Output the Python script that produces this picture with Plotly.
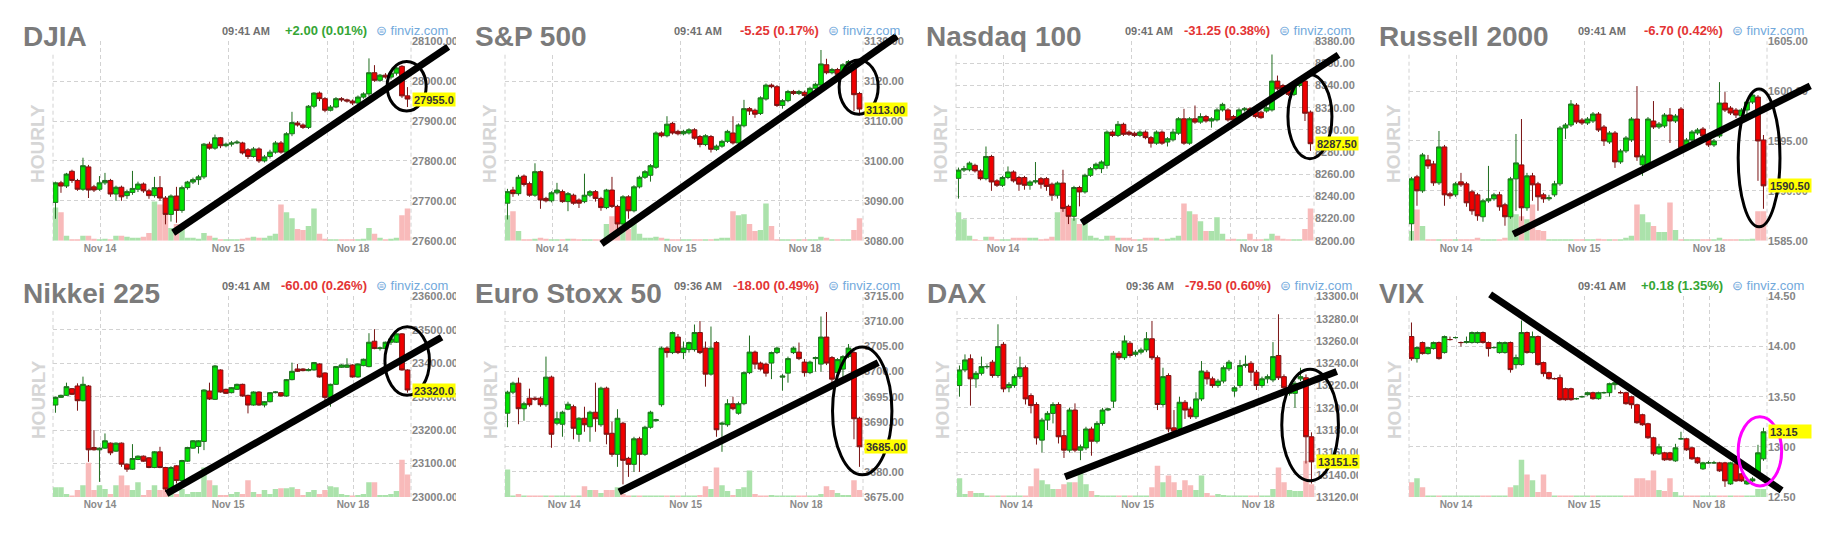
import plotly.graph_objects as go

W, H = 1843, 544
FONT = "Arial, 'Liberation Sans', sans-serif"

# hourly bars, Nov 13 evening through Nov 18 morning
bar_index = list(range(65))
x_range = (-0.45, 64.64)

# ---------------- DJIA ----------------
djia_open = [27696,27745,27737,27774,27751,27729,27785,27735,27729,27745,
             27751,27717,27734,27713,27721,27729,27742,27725,27713,27733,
             27707,27666,27712,27676,27733,27747,27753,27760,27842,27832,
             27858,27838,27842,27845,27845,27828,27811,27830,27800,27811,
             27822,27845,27822,27868,27895,27890,27884,27937,27970,27956,
             27927,27935,27956,27953,27950,27945,27960,27968,28021,28002,
             28015,28010,28020,28037,27963]
djia_high = [27748,27750,27770,27778,27755,27808,27790,27740,27762,27770,
             27755,27738,27738,27728,27775,27748,27746,27730,27760,27762,
             27712,27716,27735,27738,27750,27758,27765,27845,27848,27866,
             27860,27846,27850,27852,27848,27832,27835,27834,27815,27828,
             27850,27850,27872,27923,27900,27894,27940,27972,27974,27960,
             27940,27960,27960,27956,27954,27964,27972,28057,28040,28018,
             28020,28025,28036,28040,27985]
djia_low = [27655,27720,27732,27745,27725,27725,27707,27722,27725,27740,
            27710,27700,27700,27705,27715,27722,27720,27705,27708,27700,
            27641,27648,27645,27670,27728,27742,27740,27755,27828,27828,
            27832,27834,27836,27842,27816,27805,27808,27795,27796,27806,
            27818,27818,27818,27862,27886,27880,27880,27932,27950,27922,
            27924,27932,27948,27946,27940,27940,27956,27962,27998,27998,
            28006,28004,28014,27958,27935]
djia_close = [27745,27737,27767,27751,27729,27788,27727,27727,27745,27751,
              27717,27734,27710,27723,27731,27742,27725,27713,27733,27707,
              27666,27712,27676,27733,27747,27753,27760,27842,27832,27858,
              27838,27842,27845,27847,27820,27811,27830,27800,27810,27822,
              27845,27822,27868,27896,27890,27884,27937,27970,27956,27927,
              27935,27956,27953,27950,27945,27960,27968,28021,28002,28015,
              28010,28020,28033,27963,27955]
djia_volume = [34,29,5,1,1,5,5,2,1,2, 1,5,5,4,3,3,4,8,40,37,
               27,13,17,13,3,3,2,8,5,3, 1,1,1,1,2,3,4,3,3,5,
               7,37,29,23,12,11,15,33,7,2, 1,1,1,1,1,1,2,13,7,3,
               1,2,3,26,33]

# ---------------- S&P 500 ----------------
spx_open = [3089.4,3092.7,3091.8,3096.2,3094.3,3091.4,3097.3,3090.6,3090.0,3092.0,
            3092.3,3089.8,3091.4,3090.2,3089.8,3091.4,3092.3,3090.6,3088.3,3092.7,
            3088.6,3084.2,3091.0,3087.5,3093.5,3095.9,3096.4,3098.4,3107.0,3106.3,
            3109.4,3107.4,3106.8,3107.0,3107.8,3106.1,3104.1,3106.1,3102.9,3103.7,
            3104.9,3107.0,3104.5,3108.8,3113.1,3112.7,3111.9,3115.5,3119.0,3118.6,
            3113.9,3115.1,3117.4,3116.9,3117.2,3116.6,3118.2,3119.0,3124.1,3122.1,
            3122.9,3121.7,3124.1,3123.3,3116.9]
spx_high = [3093.0,3093.5,3096.5,3096.6,3094.8,3099.4,3097.6,3091.0,3092.4,3094.5,
            3092.8,3092.2,3091.8,3090.6,3096.8,3092.7,3092.7,3091.0,3093.0,3096.0,
            3089.0,3091.4,3091.4,3093.9,3096.3,3097.7,3099.2,3107.4,3107.4,3111.2,
            3109.8,3107.8,3107.8,3108.2,3108.2,3106.5,3106.7,3106.5,3104.1,3105.3,
            3107.8,3111.2,3109.4,3115.3,3113.5,3113.1,3116.2,3119.4,3119.4,3119.0,
            3115.5,3117.8,3117.8,3117.8,3117.6,3118.6,3119.6,3127.8,3125.6,3123.3,
            3123.3,3124.5,3125.3,3123.7,3117.3]
spx_low = [3085.3,3091.0,3091.3,3093.6,3091.0,3091.0,3088.0,3089.6,3089.6,3091.6,
           3089.5,3087.4,3089.0,3088.2,3089.4,3090.9,3089.8,3087.5,3087.9,3088.2,
           3082.8,3083.8,3085.5,3087.1,3093.1,3095.5,3094.8,3098.0,3105.9,3105.9,
           3106.6,3106.4,3106.4,3106.6,3105.3,3103.4,3103.7,3102.1,3102.5,3103.3,
           3104.5,3104.1,3104.1,3108.4,3111.5,3110.8,3111.5,3115.1,3118.2,3113.5,
           3113.1,3114.7,3116.5,3116.5,3116.0,3116.2,3117.8,3118.6,3121.7,3121.7,
           3121.3,3121.3,3123.7,3112.5,3111.4]
spx_close = [3092.3,3091.8,3095.9,3094.1,3091.4,3097.3,3090.2,3090.0,3092.0,3092.7,
             3089.8,3091.8,3089.4,3089.4,3091.4,3092.3,3090.6,3088.3,3092.7,3088.6,
             3084.2,3091.0,3087.5,3093.5,3095.9,3097.3,3098.8,3107.0,3106.3,3109.2,
             3107.0,3106.8,3107.4,3107.8,3105.7,3104.1,3106.3,3102.9,3103.7,3104.9,
             3107.4,3104.5,3109.0,3113.1,3112.5,3111.7,3115.8,3119.0,3118.6,3113.9,
             3115.1,3117.4,3116.9,3117.4,3116.4,3118.2,3119.2,3124.3,3122.1,3122.9,
             3121.7,3124.1,3124.9,3116.6,3113.0]
spx_volume = [26,30,10,1,1,2,3,2,1,1, 1,2,2,1,1,1,1,1,17,25,
              31,20,12,23,7,3,3,4,3,2, 1,1,1,1,1,1,1,1,2,3,
              3,30,26,27,17,10,11,38,15,1, 1,1,1,1,1,1,1,4,3,1,
              1,1,1,11,23]

# ---------------- Nasdaq 100 ----------------
ndx_open = [8256.3,8263.7,8264.0,8268.0,8263.0,8256.0,8276.0,8254.0,8250.0,8257.0,
            8262.0,8257.0,8257.0,8250.0,8253.0,8256.0,8256.0,8251.0,8241.0,8252.0,
            8231.0,8222.0,8248.0,8244.0,8259.0,8265.0,8265.0,8268.0,8298.0,8295.0,
            8305.0,8298.0,8297.0,8295.0,8298.0,8293.0,8288.0,8298.0,8289.0,8291.0,
            8297.0,8310.0,8288.0,8310.0,8307.0,8312.0,8308.0,8309.0,8318.0,8318.0,
            8312.0,8310.0,8318.0,8319.0,8318.0,8316.0,8317.0,8318.0,8344.0,8340.0,
            8337.0,8332.0,8340.0,8344.0,8316.0]
ndx_high = [8266.0,8267.5,8271.5,8269.5,8264.5,8285.0,8277.5,8255.5,8258.5,8267.0,
            8263.5,8258.5,8258.5,8254.5,8271.0,8257.5,8257.5,8252.5,8253.5,8264.0,
            8232.5,8249.5,8249.5,8260.5,8266.5,8270.5,8272.5,8299.5,8299.5,8308.0,
            8306.5,8299.5,8298.5,8299.5,8299.5,8294.5,8299.5,8299.5,8293.5,8301.0,
            8311.5,8319.0,8311.5,8322.0,8315.0,8313.5,8311.5,8319.5,8324.5,8319.5,
            8313.5,8319.5,8320.5,8320.5,8319.5,8317.5,8321.5,8368.0,8349.0,8341.5,
            8338.5,8342.5,8345.5,8345.5,8317.5]
ndx_low = [8238.0,8262.0,8262.5,8261.5,8254.5,8254.5,8245.0,8248.5,8248.5,8255.5,
           8252.5,8245.0,8246.0,8246.0,8251.5,8247.0,8245.0,8236.0,8238.0,8226.0,
           8215.0,8218.0,8231.0,8242.5,8257.5,8263.5,8261.0,8265.0,8293.5,8293.5,
           8294.5,8294.5,8293.5,8293.5,8291.5,8284.0,8286.5,8286.5,8285.0,8289.5,
           8295.5,8286.5,8286.5,8305.5,8305.5,8306.5,8302.0,8307.5,8316.5,8307.5,
           8307.5,8308.5,8316.5,8314.5,8310.5,8310.0,8315.5,8316.5,8335.5,8335.5,
           8330.5,8330.5,8338.5,8308.0,8281.0]
ndx_close = [8263.7,8265.0,8270.0,8263.0,8256.0,8276.0,8253.0,8250.0,8257.0,8262.0,
             8254.0,8251.0,8250.0,8253.0,8254.0,8251.0,8249.0,8241.0,8252.0,8229.0,
             8222.0,8248.0,8244.0,8259.0,8265.0,8269.0,8271.0,8298.0,8295.0,8305.0,
             8296.0,8296.0,8295.0,8298.0,8293.0,8288.0,8298.0,8288.0,8292.0,8298.0,
             8310.0,8288.0,8310.0,8307.0,8312.0,8308.0,8310.0,8318.0,8323.0,8309.0,
             8309.0,8318.0,8319.0,8316.0,8312.0,8311.0,8320.0,8344.0,8337.0,8337.0,
             8332.0,8341.0,8344.0,8315.0,8287.5]
ndx_volume = [29,22,5,1,0.5,4,4,1,1,1, 3,3,3,3,3,1,2,4,29,33,
              31,23,17,22,5,3,1,5,5,3, 3,3,1,1,3,3,3,1,2,3,
              5,38,30,27,20,10,10,24,7,1, 2,1,1,7,1,1,2,7,5,2,
              1,1,1,12,33]

# ---------------- Russell 2000 ----------------
rut_open = [1586.7,1591.4,1590.0,1593.1,1592.7,1590.8,1594.4,1589.7,1589.6,1590.9,
            1590.7,1589.9,1589.6,1587.4,1589.0,1589.2,1589.6,1588.6,1587.4,1591.2,
            1592.6,1588.3,1591.5,1590.7,1589.6,1589.2,1589.6,1590.7,1596.3,1596.6,
            1598.6,1597.1,1596.8,1597.0,1597.7,1596.4,1594.9,1595.8,1592.9,1594.0,
            1595.1,1597.2,1592.6,1592.6,1597.0,1596.4,1596.5,1597.6,1597.0,1598.2,
            1594.2,1595.1,1595.8,1596.2,1595.5,1594.6,1595.5,1598.8,1598.3,1598.1,
            1597.5,1598.1,1598.9,1599.4,1595.1]
rut_high = [1591.4,1591.6,1593.8,1593.6,1593.0,1596.0,1594.6,1589.9,1590.9,1591.8,
            1590.9,1590.1,1589.8,1589.2,1592.5,1589.8,1589.9,1588.8,1591.4,1595.7,
            1597.2,1591.8,1591.8,1590.9,1589.8,1589.6,1591.0,1596.5,1596.8,1599.1,
            1598.8,1597.3,1597.4,1597.9,1597.9,1596.6,1596.0,1596.0,1594.2,1595.5,
            1597.4,1600.5,1593.7,1597.4,1599.0,1596.9,1597.8,1598.3,1597.7,1598.4,
            1595.3,1596.1,1596.3,1596.4,1595.7,1595.2,1600.9,1599.9,1598.5,1598.3,
            1598.3,1599.1,1599.8,1599.6,1595.6]
rut_low = [1585.0,1588.5,1589.8,1592.2,1590.5,1590.6,1588.5,1589.2,1589.4,1590.4,
           1588.4,1587.6,1587.0,1586.9,1588.8,1589.0,1588.0,1586.5,1587.2,1588.0,
           1587.0,1588.0,1589.0,1588.0,1588.8,1589.0,1589.4,1590.5,1595.2,1596.4,
           1596.7,1596.6,1596.6,1596.8,1595.9,1594.5,1594.7,1592.3,1592.7,1593.8,
           1594.9,1593.0,1591.5,1592.4,1596.2,1596.2,1596.3,1594.8,1596.8,1594.1,
           1594.0,1594.9,1595.6,1595.3,1594.4,1594.4,1595.3,1597.9,1597.6,1597.3,
           1597.3,1597.0,1598.7,1591.0,1588.2]
rut_close = [1591.2,1590.0,1593.6,1592.5,1590.8,1594.4,1589.6,1589.5,1590.7,1590.6,
             1588.8,1588.0,1587.5,1589.0,1589.2,1589.6,1588.4,1587.4,1591.2,1592.8,
             1588.3,1591.5,1590.6,1589.4,1589.2,1589.3,1590.7,1596.3,1596.6,1598.7,
             1596.9,1596.8,1597.2,1597.7,1596.1,1595.0,1595.8,1592.9,1594.0,1595.3,
             1597.2,1593.4,1593.5,1597.2,1596.4,1596.7,1597.6,1597.0,1597.5,1594.3,
             1595.1,1595.9,1596.1,1595.5,1594.6,1595.0,1598.8,1598.1,1597.8,1597.6,
             1598.1,1598.9,1599.6,1595.0,1590.5]
rut_volume = [10,32,15,1,1,1,1,1,1,1, 1,1,3,1,1,1,1,3,29,27,
              25,22,37,11,10,1,1,1,1,1, 1,1,1,1,2,1,1,1,1,3,
              5,37,27,19,15,9,9,39,11,1, 1,1,1,1,1,1,3,1,1,1,
              1,1,2,30,30]

# ---------------- Nikkei 225 ----------------
nky_open = [23275,23298,23304,23324,23332,23288,23332,23148,23141,23146,
            23161,23137,23161,23098,23083,23112,23122,23117,23088,23135,
            23088,23024,23093,23049,23107,23146,23151,23166,23317,23292,
            23380,23322,23312,23322,23337,23304,23275,23314,23275,23285,
            23312,23312,23302,23351,23383,23383,23378,23380,23398,23371,
            23298,23337,23388,23388,23395,23359,23393,23390,23466,23444,
            23444,23463,23463,23488,23380]
nky_high = [23300,23306,23342,23326,23340,23360,23335,23200,23148,23190,
            23163,23163,23163,23100,23158,23124,23124,23119,23137,23150,
            23090,23092,23095,23111,23150,23170,23170,23322,23342,23395,
            23382,23324,23329,23339,23339,23306,23316,23316,23287,23314,
            23316,23314,23353,23402,23398,23385,23385,23404,23400,23373,
            23339,23392,23397,23415,23397,23400,23414,23490,23502,23450,
            23465,23475,23490,23490,23382]
nky_low = [23252,23296,23302,23305,23258,23286,23105,23139,23045,23144,
           23125,23135,23090,23075,23081,23110,23105,23086,23086,23086,
           23015,23022,23040,23047,23105,23144,23130,23140,23290,23290,
           23312,23308,23310,23320,23300,23250,23273,23273,23268,23283,
           23310,23300,23300,23349,23374,23376,23376,23378,23357,23280,
           23270,23335,23386,23386,23357,23357,23391,23388,23442,23438,
           23442,23455,23461,23378,23312]
nky_close = [23298,23304,23330,23307,23288,23337,23141,23141,23146,23168,
             23132,23161,23098,23083,23115,23122,23107,23088,23135,23088,
             23024,23088,23049,23109,23148,23168,23168,23320,23293,23392,
             23314,23310,23327,23337,23302,23275,23314,23275,23285,23312,
             23314,23302,23351,23376,23376,23378,23381,23402,23359,23298,
             23337,23390,23395,23395,23359,23398,23412,23463,23444,23446,
             23463,23473,23488,23380,23320]
nky_volume = [10,10,3,1,7,12,35,7,12,8, 3,12,22,12,7,15,2,7,12,7,
              10,8,3,8,3,5,5,30,17,12, 2,2,3,5,3,17,5,3,7,3,
              8,9,9,10,8,2,5,7,3,7, 11,10,3,2,1,2,3,15,15,2,
              2,3,6,38,23]

# ---------------- Euro Stoxx 50 ----------------
sx5e_open = [3691.7,3695.9,3697.7,3692.6,3694.7,3694.7,3694.7,3693.4,3698.9,3689.7,
             3689.5,3692.5,3693.0,3687.5,3690.7,3689.0,3691.9,3689.4,3696.7,3687.7,
             3683.5,3689.7,3682.7,3681.5,3686.6,3683.5,3688.9,3690.2,3693.4,3704.7,
             3703.8,3706.9,3703.8,3704.4,3704.4,3707.8,3704.7,3699.5,3705.8,3689.5,
             3689.4,3693.6,3691.7,3693.6,3699.8,3703.9,3701.7,3701.5,3701.7,3703.8,
             3698.9,3699.7,3703.8,3703.9,3701.9,3699.8,3702.6,3701.5,3706.9,3702.8,
             3699.8,3700.5,3703.0,3703.8,3690.7]
sx5e_high = [3696.2,3698.0,3698.8,3694.0,3696.6,3695.0,3695.0,3703.0,3699.2,3692.0,
             3692.2,3694.0,3693.4,3690.9,3693.0,3692.2,3697.8,3697.0,3697.0,3690.0,
             3692.5,3690.0,3683.0,3687.0,3687.0,3689.2,3692.2,3690.6,3705.0,3705.0,
             3708.0,3707.5,3706.0,3706.0,3709.4,3710.1,3706.0,3709.0,3706.1,3690.0,
             3694.5,3695.0,3694.0,3700.0,3707.2,3704.2,3702.0,3701.8,3704.0,3705.0,
             3699.5,3703.0,3705.0,3705.8,3702.5,3702.2,3703.0,3711.0,3711.9,3703.1,
             3702.7,3703.3,3705.5,3704.1,3691.0]
sx5e_low = [3688.9,3695.5,3689.5,3690.2,3693.0,3694.2,3693.0,3693.0,3684.8,3689.3,
            3687.0,3692.3,3686.5,3686.0,3688.0,3686.0,3688.0,3689.0,3685.5,3683.0,
            3681.0,3677.5,3679.0,3680.0,3680.0,3683.2,3688.6,3690.0,3693.0,3702.8,
            3703.5,3703.5,3702.5,3703.8,3704.0,3703.5,3697.0,3699.2,3687.0,3684.0,
            3689.0,3692.3,3691.4,3693.3,3699.5,3700.5,3700.2,3699.0,3698.5,3703.5,
            3696.2,3697.8,3703.5,3702.3,3699.0,3699.5,3700.0,3700.0,3701.3,3697.5,
            3697.0,3698.5,3702.7,3686.5,3681.0]
sx5e_close = [3695.9,3697.7,3692.6,3693.6,3693.4,3694.5,3693.4,3698.9,3687.5,3690.6,
              3691.9,3693.5,3688.7,3690.7,3689.4,3691.9,3690.6,3696.7,3687.5,3683.5,
              3690.7,3682.3,3681.5,3686.6,3683.5,3688.9,3691.9,3690.4,3704.7,3703.8,
              3707.8,3703.8,3704.7,3705.8,3707.8,3703.8,3699.5,3704.7,3688.4,3689.7,
              3693.6,3692.6,3693.6,3699.8,3703.9,3701.5,3700.5,3699.7,3703.8,3704.7,
              3699.1,3702.6,3704.7,3702.6,3699.8,3701.9,3702.8,3706.9,3701.7,3698.5,
              3702.4,3703.0,3704.7,3690.6,3685.0]
sx5e_volume = [28,1,3,1,1,0.5,0.5,0.5,0.5,0.5, 0.5,0.5,0.5,1,11,7,7,4,7,7,
               10,3,1,1,0.5,0.5,0.5,0.5,0.5,0.5, 0.5,0.5,0.5,0.5,0.5,2,11,8,30,12,
               6,2,8,10,27,3,1,0.5,2,0.5, 0.5,0.5,0.5,0.5,0.5,0.5,0.5,3,11,7,
               4,2,2,17,7]

# ---------------- DAX ----------------
dax_open = [13220,13234,13244,13226,13231,13237,13241,13229,13257,13218,
            13220,13228,13236,13211,13203,13171,13189,13195,13203,13175,
            13162,13198,13162,13164,13181,13170,13186,13198,13206,13249,
            13245,13258,13248,13250,13252,13262,13245,13203,13229,13182,
            13181,13205,13199,13192,13208,13232,13226,13220,13224,13235,
            13215,13220,13238,13240,13232,13220,13226,13225,13247,13228,
            13213,13213,13226,13227,13174]
dax_high = [13238,13248,13248,13233,13246,13239,13243,13275,13259,13223,
            13230,13246,13238,13213,13205,13191,13197,13205,13205,13180,
            13200,13204,13167,13183,13183,13188,13200,13200,13251,13251,
            13265,13260,13252,13254,13268,13278,13247,13236,13231,13198,
            13210,13207,13201,13214,13242,13234,13228,13226,13238,13243,
            13220,13243,13247,13242,13234,13228,13230,13259,13284,13230,
            13217,13224,13236,13230,13178]
dax_low = [13210,13232,13202,13218,13229,13235,13227,13227,13214,13214,
           13218,13226,13203,13195,13167,13160,13180,13186,13168,13155,
           13160,13160,13153,13162,13157,13168,13184,13197,13200,13243,
           13243,13245,13246,13248,13250,13243,13198,13201,13178,13177,
           13179,13190,13190,13190,13206,13221,13218,13218,13222,13233,
           13210,13218,13236,13224,13216,13218,13222,13223,13225,13212,
           13211,13200,13224,13150,13132]
dax_close = [13234,13243,13226,13231,13237,13237,13229,13255,13217,13221,
             13228,13236,13208,13202,13173,13189,13195,13203,13174,13162,
             13198,13162,13165,13181,13170,13186,13198,13199,13249,13245,
             13260,13247,13250,13252,13262,13245,13203,13228,13181,13179,
             13205,13198,13192,13208,13233,13226,13220,13224,13236,13241,
             13218,13238,13239,13232,13220,13226,13228,13246,13227,13218,
             13215,13222,13228,13174,13151.5]
dax_volume = [19,3,6,4,4,0.5,0.5,1,1,0.5, 0.5,1,1,11,29,17,13,8,8,13,
              15,15,29,13,6,2,1,0.5,0.5,0.5, 0.5,0.5,0.5,0.5,0.5,10,32,15,22,15,
              7,17,12,7,22,4,1,3,2,0.5, 0.5,0.5,0.5,0.5,0.5,0.5,0.5,8,30,15,
              7,6,6,37,13]

# ---------------- VIX ----------------
vix_open = [14.10,13.88,14.04,13.93,13.98,14.04,13.94,14.07,14.09,14.04,
            14.04,14.04,14.04,14.14,14.04,13.99,13.94,13.94,14.04,13.82,
            13.82,14.14,13.94,14.10,13.84,13.74,13.68,13.69,13.58,13.58,
            13.48,13.50,13.52,13.54,13.48,13.54,13.54,13.62,13.54,13.54,
            13.50,13.42,13.32,13.23,13.09,12.93,12.94,12.94,12.86,13.08,
            13.08,12.99,12.89,12.78,12.84,12.84,12.84,12.84,12.63,12.83,
            12.73,12.63,12.66,12.74,12.88]
vix_high = [14.24,14.00,14.05,14.00,14.05,14.05,14.11,14.10,14.10,14.05,
            14.10,14.15,14.15,14.15,14.05,14.00,14.05,14.05,14.05,13.92,
            14.26,14.15,14.15,14.11,13.85,13.75,13.69,13.72,13.59,13.59,
            13.49,13.51,13.55,13.55,13.55,13.55,13.64,13.65,13.56,13.55,
            13.51,13.43,13.33,13.24,13.10,13.03,12.95,12.95,13.03,13.15,
            13.09,13.00,12.90,12.85,12.86,12.86,12.85,12.85,12.85,12.84,
            12.74,12.67,12.70,13.02,13.19]
vix_low = [13.86,13.84,13.92,13.92,13.97,13.87,13.93,14.06,14.08,14.00,
           14.03,14.03,14.03,14.03,13.90,13.98,13.93,13.93,13.74,13.78,
           13.81,13.93,13.93,13.81,13.70,13.67,13.67,13.46,13.46,13.46,
           13.47,13.49,13.51,13.47,13.47,13.53,13.50,13.57,13.53,13.42,
           13.38,13.23,13.21,13.08,12.91,12.92,12.86,12.86,12.85,13.07,
           12.96,12.87,12.83,12.77,12.83,12.83,12.75,12.60,12.62,12.65,
           12.65,12.62,12.65,12.72,12.86]
vix_close = [13.88,13.99,13.93,13.99,14.04,13.88,14.10,14.07,14.09,14.04,
             14.05,14.14,14.14,14.04,13.98,13.99,14.04,14.04,13.77,13.89,
             14.14,13.94,14.10,13.82,13.73,13.68,13.68,13.47,13.47,13.47,
             13.48,13.50,13.54,13.48,13.54,13.54,13.63,13.64,13.54,13.43,
             13.42,13.24,13.22,13.09,12.93,13.00,12.87,12.87,12.99,13.08,
             12.97,12.88,12.84,12.84,12.84,12.84,12.76,12.66,12.84,12.66,
             12.66,12.66,12.68,12.94,13.15]
vix_volume = [15,19,10,0.5,0.5,0.5,0.5,0.5,0.5,0.5, 0.5,0.5,0.5,0.5,1,1,1,1,10,12,
              38,23,17,5,23,5,1,0.5,0.5,0.5, 0.5,0.5,0.5,0.5,0.5,0.5,0.5,0.5,0.5,0.5,
              0.5,19,19,17,27,7,6,19,5,1, 1,1,0.5,0.5,0.5,0.5,0.5,0.5,0.5,0.5,
              0.5,0.5,0.5,8,8]

# session markers (bar positions): day starts and the Sunday-evening reopen
us_days = [8.1, 31.4, 54.1]
us_reopen = [49.4]
eu_days = [10.3, 32.4, 54.3]
eu_reopen = [50.0]
day_labels = ["Nov 14", "Nov 15", "Nov 18"]

# hand-drawn annotations: trend line (bar, price) -> (bar, price); ring (bar0, bar1, price0, price1)
djia_trend = ((21.4, 27620), (71.4, 28086));  djia_ring = (60.3, 67.4, 27925, 28049)
spx_trend = ((17.1, 3079.2), (70.8, 3131.3));  spx_ring = (60.3, 67.4, 3111.7, 3125.3)
ndx_trend = ((22.4, 8216.2), (69.1, 8367.7));  ndx_ring = (59.9, 67.9, 8274, 8350)
rut_trend = ((18.5, 1585.65), (72.5, 1600.52)); rut_ring = (59.4, 67.0, 1586.4, 1600.2)
nky_trend = ((20.2, 23009.8), (70.2, 23478));  nky_ring = (59.9, 68.0, 23304, 23509)
sx5e_trend = ((20.3, 3676.0), (67.4, 3701.8)); sx5e_ring = (59.1, 69.9, 3679.4, 3704.9)
dax_trend = ((19.2, 13138.1), (68.6, 13232.7)); dax_ring = (58.6, 68.9, 13134.6, 13234.7)
vix_trend = ((14.3, 14.52), (67.3, 12.565));   vix_ring = (59.4, 67.3, 12.61, 13.30)

panels = [
    dict(title="DJIA", o=djia_open, h=djia_high, l=djia_low, c=djia_close, v=djia_volume,
         yr=(27600, 28100), step=100, time="09:41 AM", chg="+2.00 (0.01%)",
         trend=djia_trend, ring=djia_ring, ring_color="black", days=us_days, reopen=us_reopen),
    dict(title="S&P 500", o=spx_open, h=spx_high, l=spx_low, c=spx_close, v=spx_volume,
         yr=(3080, 3130), step=10, time="09:41 AM", chg="-5.25 (0.17%)",
         trend=spx_trend, ring=spx_ring, ring_color="black", days=us_days, reopen=us_reopen),
    dict(title="Nasdaq 100", o=ndx_open, h=ndx_high, l=ndx_low, c=ndx_close, v=ndx_volume,
         yr=(8200, 8380), step=20, time="09:41 AM", chg="-31.25 (0.38%)",
         trend=ndx_trend, ring=ndx_ring, ring_color="black", days=us_days, reopen=us_reopen),
    dict(title="Russell 2000", o=rut_open, h=rut_high, l=rut_low, c=rut_close, v=rut_volume,
         yr=(1585, 1605), step=5, time="09:41 AM", chg="-6.70 (0.42%)",
         trend=rut_trend, ring=rut_ring, ring_color="black", days=us_days, reopen=us_reopen),
    dict(title="Nikkei 225", o=nky_open, h=nky_high, l=nky_low, c=nky_close, v=nky_volume,
         yr=(23000, 23600), step=100, time="09:41 AM", chg="-60.00 (0.26%)",
         trend=nky_trend, ring=nky_ring, ring_color="black", days=us_days, reopen=us_reopen),
    dict(title="Euro Stoxx 50", o=sx5e_open, h=sx5e_high, l=sx5e_low, c=sx5e_close, v=sx5e_volume,
         yr=(3675, 3715), step=5, time="09:36 AM", chg="-18.00 (0.49%)",
         trend=sx5e_trend, ring=sx5e_ring, ring_color="black", days=eu_days, reopen=eu_reopen),
    dict(title="DAX", o=dax_open, h=dax_high, l=dax_low, c=dax_close, v=dax_volume,
         yr=(13120, 13300), step=20, time="09:36 AM", chg="-79.50 (0.60%)",
         trend=dax_trend, ring=dax_ring, ring_color="black", days=eu_days, reopen=eu_reopen),
    dict(title="VIX", o=vix_open, h=vix_high, l=vix_low, c=vix_close, v=vix_volume,
         yr=(12.5, 14.5), step=0.5, time="09:41 AM", chg="+0.18 (1.35%)",
         trend=vix_trend, ring=vix_ring, ring_color="#ff00ff", days=us_days, reopen=us_reopen),
]

# ---------------- page geometry (pixels) ----------------
PLOT_W = 358
plot_left = [[53, 505, 956, 1409], [53, 505, 957, 1409]]
plot_rows = [(36, 240), (297, 502)]
title_y = [31, 294]
info_y = [25.5, 286]
hourly_y = [141, 403]
label_cuts = [(456, 471), (907, 921), (1358, 1376), (1810, 1843)]

GRID = "#d2d2d2"
DASH = "4px,3px"
UP_FILL, UP_LINE = "#00e400", "#1f6e1f"
DN_FILL, DN_LINE = "#f00000", "#7a1414"
VOL_UP, VOL_DN = "#abe2ab", "#f8baba"


def px_x(v):
    return v / W


def px_y(v):
    return 1 - v / H


def dom_x(v):
    return (v - x_range[0]) / (x_range[1] - x_range[0])


def dom_y(v, yr):
    return (v - yr[0]) / (yr[1] - yr[0])


fig = go.Figure()
layout = dict(width=W, height=H, margin=dict(l=0, r=0, t=0, b=0),
              paper_bgcolor="white", plot_bgcolor="white", showlegend=False,
              boxgap=0.07, boxgroupgap=0.07)
shapes = []
annotations = []

# white strips that trim tick labels running into the neighbouring panel
for x0, x1 in label_cuts:
    shapes.append(dict(type="rect", xref="paper", yref="paper", x0=px_x(x0), x1=px_x(x1),
                       y0=0, y1=1, fillcolor="white", line=dict(width=0), layer="above"))

for k, p in enumerate(panels):
    row, col = divmod(k, 4)
    L = plot_left[row][col]
    top, bot = plot_rows[row]
    xn, yv, yp = k + 1, k + 1, k + 9
    xref = "x" if xn == 1 else f"x{xn}"
    yvref = "y" if yv == 1 else f"y{yv}"
    ypref = f"y{yp}"
    xkey = "xaxis" if xn == 1 else f"xaxis{xn}"
    yvkey = "yaxis" if yv == 1 else f"yaxis{yv}"
    ypkey = f"yaxis{yp}"
    lo, hi = p["yr"]

    # volume (base axis, drawn underneath)
    vol_colors = [VOL_UP if c >= o else VOL_DN for o, c in zip(p["o"], p["c"])]
    fig.add_trace(go.Bar(x=bar_index, y=p["v"], width=1.0, marker=dict(color=vol_colors, line=dict(width=0)),
                         xaxis=xref, yaxis=yvref, hoverinfo="skip"))
    # price candles (overlaid axis, drawn on top)
    fig.add_trace(go.Candlestick(x=bar_index, open=p["o"], high=p["h"], low=p["l"], close=p["c"],
                                 xaxis=xref, yaxis=ypref, whiskerwidth=0,
                                 increasing=dict(fillcolor=UP_FILL, line=dict(color=UP_LINE, width=1)),
                                 decreasing=dict(fillcolor=DN_FILL, line=dict(color=DN_LINE, width=1))))

    n_ticks = int(round((hi - lo) / p["step"])) + 1
    tickvals = [lo + i * p["step"] for i in range(n_ticks)]
    ticktext = [f"{t:.2f}" for t in tickvals]

    layout[xkey] = dict(domain=[px_x(L), px_x(L + PLOT_W)], range=list(x_range), anchor=yvref,
                        tickvals=p["days"], ticktext=day_labels, ticks="",
                        tickfont=dict(family=FONT, size=10, color="#8a8a8a", weight="bold"),
                        showgrid=True, gridcolor=GRID, griddash=DASH, gridwidth=1,
                        minor=dict(tickvals=p["reopen"], showgrid=True, gridcolor=GRID,
                                   griddash=DASH, gridwidth=1, ticks=""),
                        zeroline=False, showline=False, rangeslider=dict(visible=False), fixedrange=True)
    layout[yvkey] = dict(domain=[px_y(bot), px_y(top)], range=[0, bot - top], anchor=xref,
                         visible=False, fixedrange=True)
    layout[ypkey] = dict(overlaying=yvref, anchor=xref, side="right", range=[lo, hi],
                         tickvals=tickvals, ticktext=ticktext, ticks="",
                         tickfont=dict(family=FONT, size=11, color="#858585", weight="bold"),
                         showgrid=True, gridcolor=GRID, griddash=DASH, gridwidth=1,
                         zeroline=False, showline=False, fixedrange=True)

    # dashed frame edges
    for xe in (0, 1):
        shapes.append(dict(type="line", xref=f"{xref} domain", yref=f"{yvref} domain",
                           x0=xe, x1=xe, y0=0, y1=1, layer="below",
                           line=dict(color=GRID, width=1, dash=DASH)))

    # hand-drawn trend line and ring
    (tx0, ty0), (tx1, ty1) = p["trend"]
    shapes.append(dict(type="line", xref=f"{xref} domain", yref=f"{yvref} domain",
                       x0=dom_x(tx0), y0=dom_y(ty0, p["yr"]), x1=dom_x(tx1), y1=dom_y(ty1, p["yr"]),
                       line=dict(color="black", width=7), layer="above"))
    rx0, rx1, ry0, ry1 = p["ring"]
    shapes.append(dict(type="circle", xref=f"{xref} domain", yref=f"{yvref} domain",
                       x0=dom_x(rx0), x1=dom_x(rx1), y0=dom_y(ry0, p["yr"]), y1=dom_y(ry1, p["yr"]),
                       line=dict(color=p["ring_color"], width=3), layer="above"))

    # header: title, time, change, source
    annotations.append(dict(text=p["title"], xref="paper", yref="paper", x=px_x(L - 31),
                            y=px_y(title_y[row]), xanchor="left", yanchor="middle", showarrow=False,
                            bgcolor="white", borderpad=0,
                            font=dict(family=FONT, size=28, color="#7b7b7b", weight="bold")))
    annotations.append(dict(text=p["time"], xref="paper", yref="paper", x=px_x(L + 167),
                            y=px_y(info_y[row]), xanchor="left", yanchor="middle", showarrow=False,
                            font=dict(family=FONT, size=11, color="#707070", weight="bold")))
    chg_color = "#35a535" if p["chg"].startswith("+") else "#e33434"
    annotations.append(dict(text=p["chg"], xref="paper", yref="paper", x=px_x(L + 316),
                            y=px_y(info_y[row]), xanchor="right", yanchor="middle", showarrow=False,
                            font=dict(family=FONT, size=13, color=chg_color, weight="bold")))
    annotations.append(dict(text="⊜ finviz.com", xref="paper", yref="paper", x=px_x(L + 321),
                            y=px_y(info_y[row]), xanchor="left", yanchor="middle", showarrow=False,
                            font=dict(family=FONT, size=13, color="#72a9dc")))
    annotations.append(dict(text="HOURLY", xref="paper", yref="paper", x=px_x(L - 15),
                            y=px_y(hourly_y[row]), xanchor="center", yanchor="middle", showarrow=False,
                            textangle=-90, font=dict(family=FONT, size=19, color="#d6d6d6", weight="bold")))
    # last-price tag
    last = p["c"][-1]
    annotations.append(dict(text=f"{last:.2f}", xref=f"{xref} domain", yref=ypref,
                            x=1 + 1 / PLOT_W, y=last, xanchor="left", yanchor="middle", showarrow=False,
                            bgcolor="#ffff00", borderpad=1, width=40, height=11, align="left",
                            font=dict(family=FONT, size=11, color="#333333", weight="bold")))

layout["shapes"] = shapes
layout["annotations"] = annotations
fig.update_layout(**layout)
fig.write_html("out.html")
